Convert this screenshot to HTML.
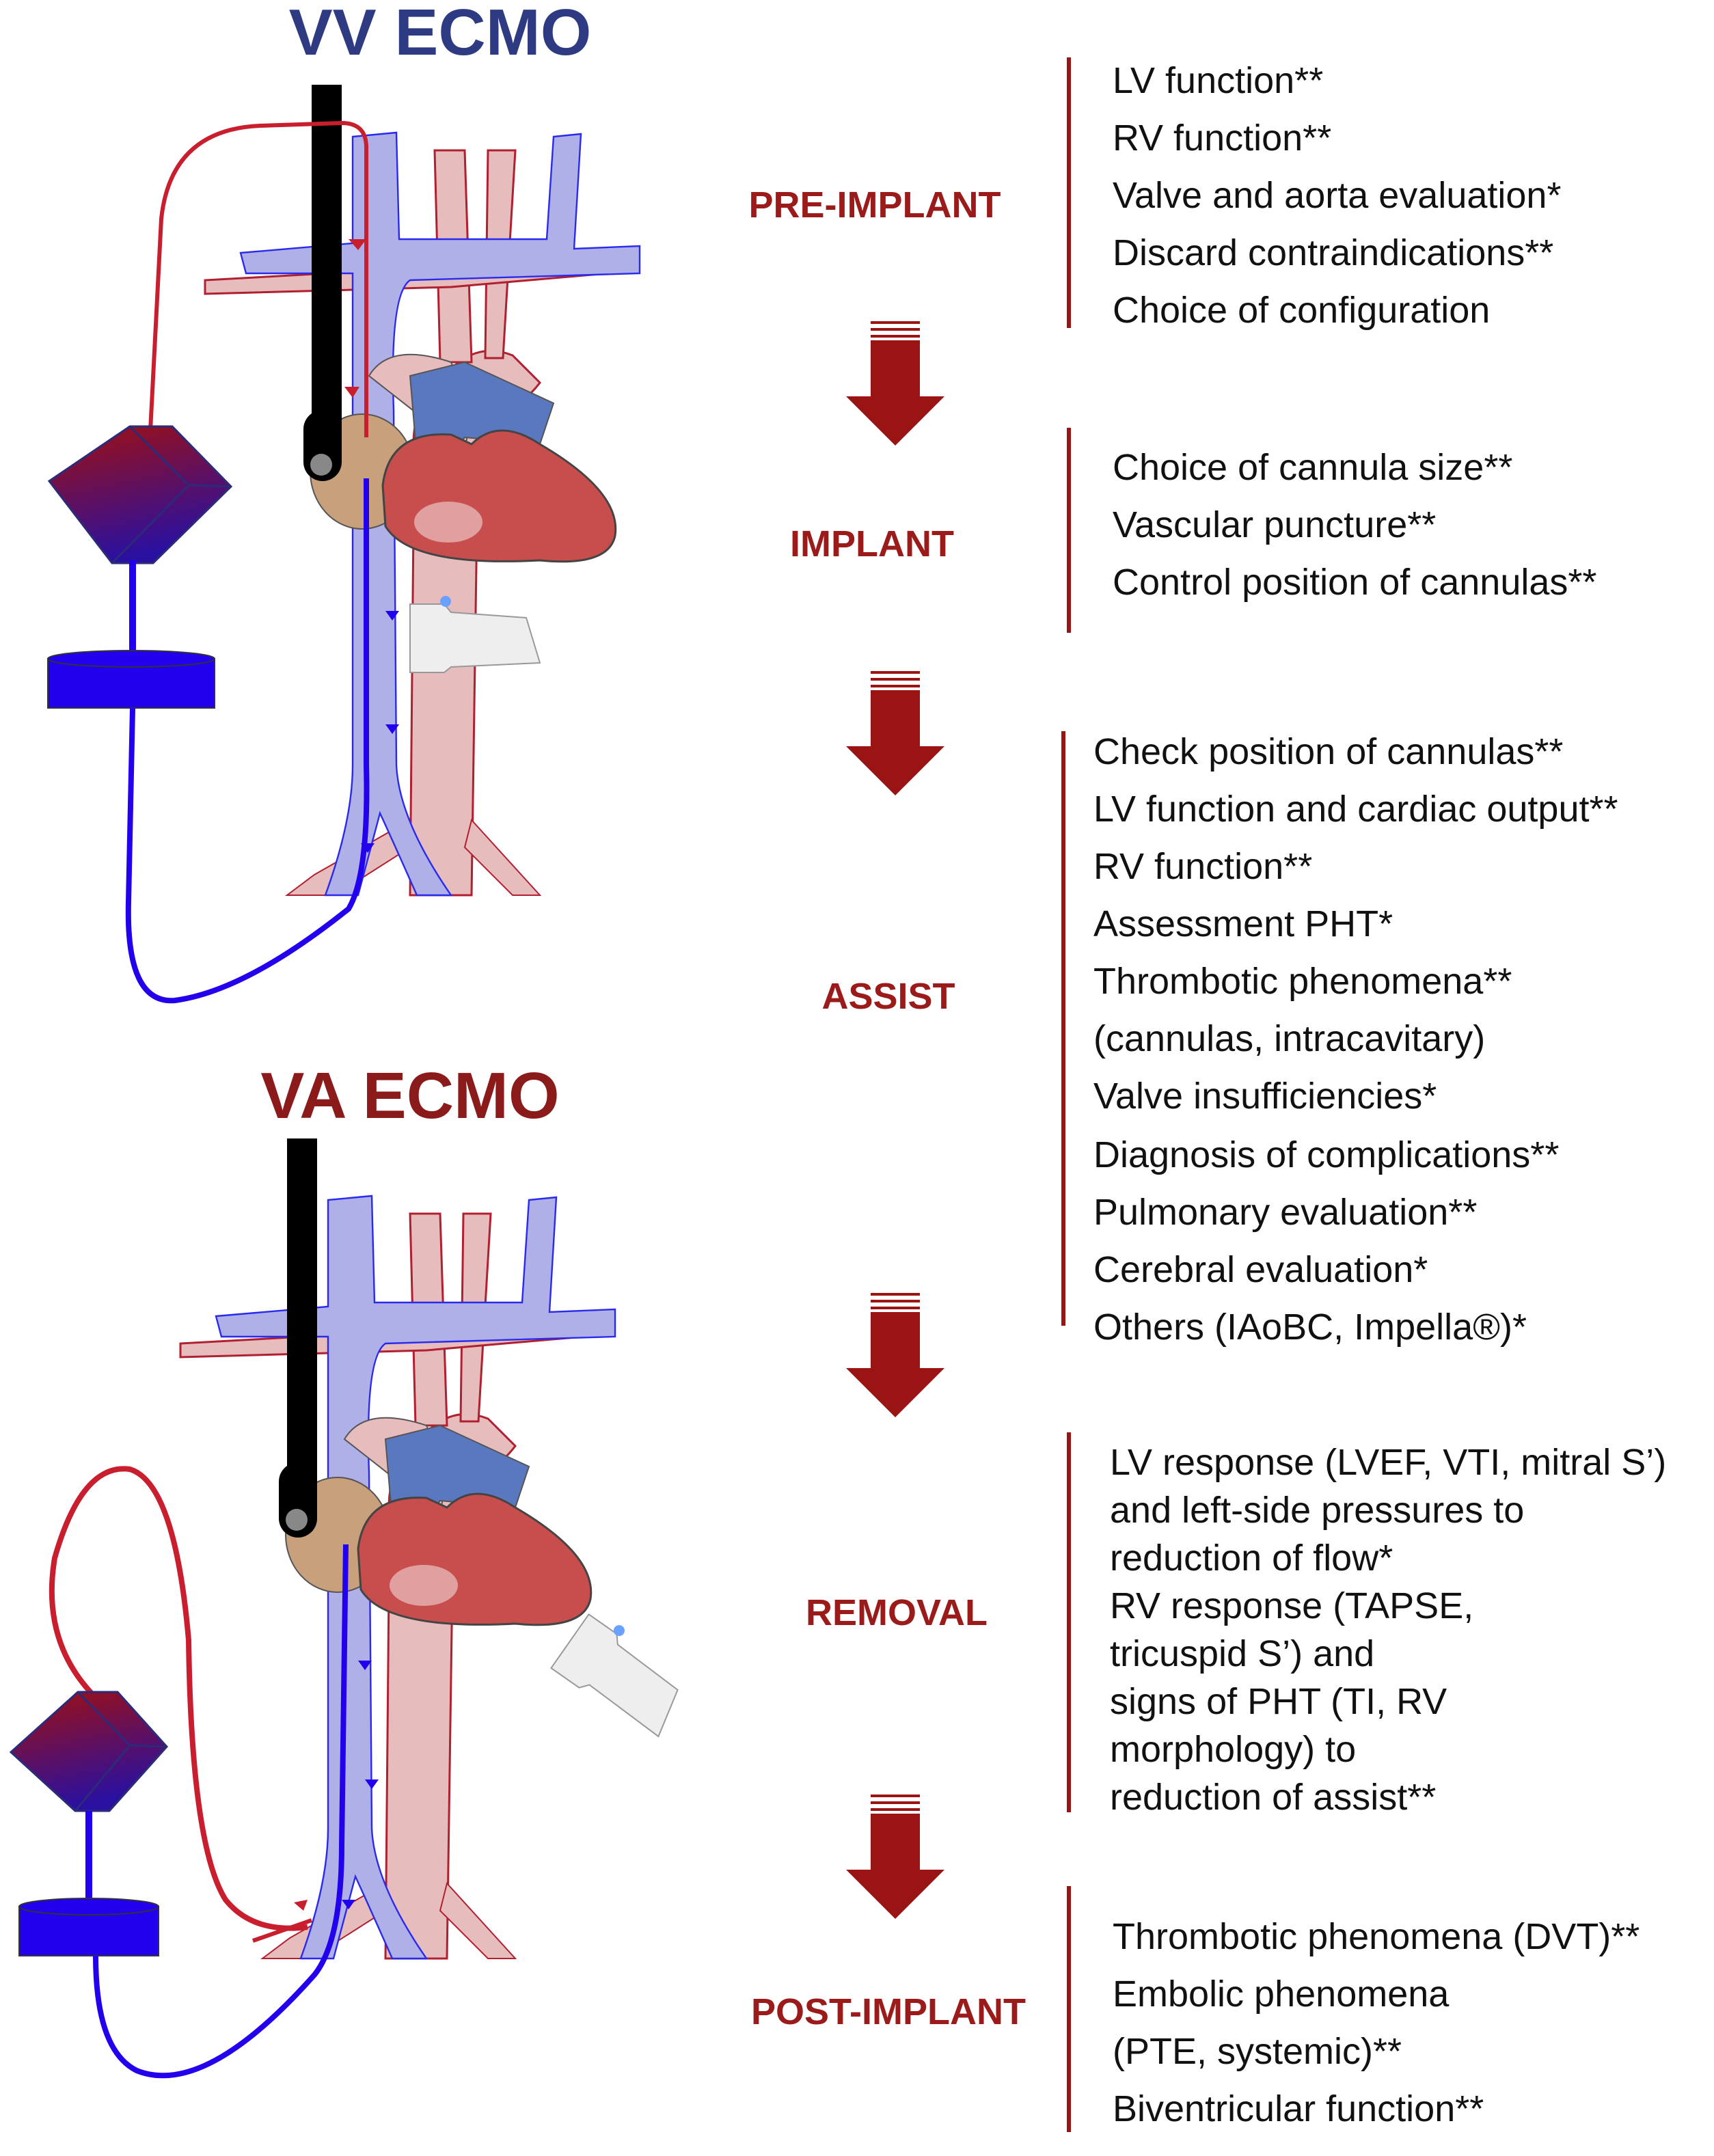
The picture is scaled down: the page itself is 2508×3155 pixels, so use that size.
<!DOCTYPE html>
<html><head><meta charset="utf-8"><style>
html,body{margin:0;padding:0;background:#fff}
svg{display:block}
text{font-family:"Liberation Sans",sans-serif}
.t{font-size:27px;fill:#111}
.s{font-size:27px;font-weight:bold;fill:#9b1b1b}
</style></head><body>
<svg width="2508" height="3155" viewBox="0 0 1254 1577.5" xmlns="http://www.w3.org/2000/svg">
<defs>
<linearGradient id="cg" x1="0" y1="0" x2="0.3" y2="1"><stop offset="0" stop-color="#a01010"/><stop offset="1" stop-color="#2a10a0"/></linearGradient>
<g id="anat">
 <path d="M300,655 L303,330 Q300,300 320,290 L330,270 Q350,250 375,260 L395,280 Q380,300 350,310 L345,655 Z" fill="#e6bcbc" stroke="#b02030" stroke-width="1.5"/>
 <path d="M322,265 L318,110 L340,110 L345,265 Z M355,262 L357,110 L377,110 L368,262 Z" fill="#e6bcbc" stroke="#b02030" stroke-width="1.5"/>
 <path d="M150,205 L150,215 L330,210 L445,200 L445,188 L330,195 Z" fill="#e6bcbc" stroke="#b02030" stroke-width="1.5"/>
 <path d="M345,600 L395,655 L375,655 L340,620 Z M300,600 L230,640 L210,655 L245,655 L300,620 Z" fill="#e6bcbc" stroke="#b02030" stroke-width="1"/>
 <path d="M258,100 L290,97 L292,175 L400,175 L405,100 L425,98 L420,182 L468,180 L468,200 L300,205 Q285,215 288,300 L290,560 Q292,600 330,655 L305,655 Q285,610 278,595 L262,655 L238,655 Q258,600 258,560 L258,200 L180,200 L176,185 L258,178 Z" fill="#b0b0e8" stroke="#2a2aee" stroke-width="1.2"/>
 <path d="M270,275 Q285,250 330,265 L345,300 L340,330 Z" fill="#e6bcbc" stroke="#555" stroke-width="1"/>
 <ellipse cx="265" cy="345" rx="38" ry="42" fill="#c9a07c" stroke="#555" stroke-width="1"/>
 <path d="M300,275 L340,265 L405,295 L395,325 L340,320 L325,340 L305,335 Z" fill="#5a78c0" stroke="#555" stroke-width="1"/>
 <path d="M280,355 Q285,315 330,318 L345,325 Q365,305 395,325 Q455,360 450,392 Q445,415 395,410 Q300,415 282,385 Z" fill="#c84e4e" stroke="#444" stroke-width="1.5"/>
 <ellipse cx="328" cy="382" rx="25" ry="15" fill="#e0a0a0"/>
</g>
</defs>

<text x="322" y="40" text-anchor="middle" style="font-size:48px;font-weight:bold;fill:#2e3a82">VV ECMO</text>
<use href="#anat"/>
<rect x="228" y="62" width="22" height="270" fill="#000"/>
<rect x="222" y="300" width="28" height="52" rx="14" fill="#000"/>
<circle cx="235" cy="340" r="8" fill="#888"/>
<path d="M268,320 L268,108 Q268,90 250,90 L190,92 Q125,95 118,160 L110,315" fill="none" stroke="#c81e2e" stroke-width="3"/>
<path d="M300,442 L325,442 L330,448 L385,452 L395,485 L330,488 L325,492 L300,492 Z" fill="#eee" stroke="#999"/>
<circle cx="326" cy="440" r="4" fill="#6aa0ff"/>
<polygon points="36,352 95,312 126,312 169,356 112,412 82,412" fill="url(#cg)" stroke="#2b2b7a" stroke-width="1.5"/>
<path d="M95,312 L138,355 L169,356 M138,355 L82,412" fill="none" stroke="#2b2b7a" stroke-width="1.5"/>
<line x1="97" y1="410" x2="97" y2="478" stroke="#2200ee" stroke-width="5"/>
<rect x="35" y="482" width="122" height="36" fill="#2200ee" stroke="#333"/>
<ellipse cx="96" cy="482" rx="61" ry="6" fill="#2200ee" stroke="#333"/>
<path d="M97,518 L94,660 Q92,735 128,732 Q180,725 255,665 Q270,640 268,560 L268,350" fill="none" stroke="#2200ee" stroke-width="4"/>
<polygon points="282,447 292,447 287,454" fill="#2200ee"/><polygon points="282,530 292,530 287,537" fill="#2200ee"/><polygon points="264,617 274,617 269,624" fill="#2200ee"/>
<polygon points="255,175 268,175 262,183" fill="#c81e2e"/><polygon points="252,283 263,283 258,291" fill="#c81e2e"/>

<text x="300" y="818" text-anchor="middle" style="font-size:48px;font-weight:bold;fill:#8b1a1a">VA ECMO</text>
<g transform="translate(-18,778)"><use href="#anat"/></g>
<rect x="210" y="833" width="22" height="270" fill="#000"/>
<rect x="204" y="1070" width="28" height="55" rx="14" fill="#000"/>
<circle cx="217" cy="1112" r="8" fill="#888"/>
<path d="M68,1240 Q30,1200 40,1140 Q60,1070 95,1075 Q128,1085 138,1200 Q140,1350 165,1390 Q185,1415 225,1410" fill="none" stroke="#c81e2e" stroke-width="4"/>
<path d="M185,1420 L228,1405" stroke="#c81e2e" stroke-width="3"/>
<polygon points="215,1392 225,1390 222,1398" fill="#c81e2e"/>
<g transform="translate(455,1225) rotate(35)"><path d="M-45,-22 L-20,-22 L-15,-16 L40,-14 L48,22 L-15,20 L-20,26 L-45,26 Z" fill="#eee" stroke="#999"/><circle cx="-20" cy="-25" r="4" fill="#6aa0ff"/></g>
<polygon points="8,1282 57,1238 86,1238 122,1278 80,1325 55,1325" fill="url(#cg)" stroke="#2b2b7a" stroke-width="1.5"/>
<path d="M57,1238 L95,1277 L122,1278 M95,1277 L55,1325" fill="none" stroke="#2b2b7a" stroke-width="1.5"/>
<line x1="65" y1="1325" x2="65" y2="1392" stroke="#2200ee" stroke-width="5"/>
<rect x="14" y="1395" width="102" height="36" fill="#2200ee" stroke="#333"/>
<ellipse cx="65" cy="1395" rx="51" ry="6" fill="#2200ee" stroke="#333"/>
<path d="M70,1431 Q70,1500 100,1515 Q150,1535 230,1445 Q250,1420 250,1350 L253,1130" fill="none" stroke="#2200ee" stroke-width="4"/>
<polygon points="262,1215 272,1215 267,1222" fill="#2200ee"/><polygon points="267,1302 277,1302 272,1309" fill="#2200ee"/><polygon points="250,1390 260,1390 255,1397" fill="#2200ee"/>

<text class="s" x="640" y="159" text-anchor="middle">PRE-IMPLANT</text>
<text class="s" x="638" y="407" text-anchor="middle">IMPLANT</text>
<text class="s" x="650" y="738" text-anchor="middle">ASSIST</text>
<text class="s" x="656" y="1189" text-anchor="middle">REMOVAL</text>
<text class="s" x="650" y="1481" text-anchor="middle">POST-IMPLANT</text>

<g fill="#9b1414">
 <g id="arr"><rect x="637" y="235" width="36" height="2"/><rect x="637" y="240" width="36" height="2"/><rect x="637" y="245" width="36" height="2"/><rect x="637" y="249" width="36" height="42"/><polygon points="619,290 691,290 655,326"/></g>
 <use href="#arr" y="256"/><use href="#arr" y="711"/><use href="#arr" y="1078"/>
</g>

<g stroke="#9b1414" stroke-width="3">
<line x1="782" y1="42" x2="782" y2="240"/><line x1="782" y1="313" x2="782" y2="463"/>
<line x1="778" y1="535" x2="778" y2="970"/><line x1="782" y1="1048" x2="782" y2="1326"/>
<line x1="782" y1="1380" x2="782" y2="1560"/>
</g>

<g class="t">
<text x="814" y="68">LV function**</text><text x="814" y="110">RV function**</text><text x="814" y="152">Valve and aorta evaluation*</text><text x="814" y="194">Discard contraindications**</text><text x="814" y="236">Choice of configuration</text>
<text x="814" y="351">Choice of cannula size**</text><text x="814" y="393">Vascular puncture**</text><text x="814" y="435">Control position of cannulas**</text>
<text x="800" y="559">Check position of cannulas**</text><text x="800" y="601">LV function and cardiac output**</text><text x="800" y="643">RV function**</text><text x="800" y="685">Assessment PHT*</text><text x="800" y="727">Thrombotic phenomena**</text><text x="800" y="769">(cannulas, intracavitary)</text><text x="800" y="811">Valve insufficiencies*</text><text x="800" y="854">Diagnosis of complications**</text><text x="800" y="896">Pulmonary evaluation**</text><text x="800" y="938">Cerebral evaluation*</text><text x="800" y="980">Others (IAoBC, Impella®)*</text>
<text x="812" y="1079">LV response (LVEF, VTI, mitral S’)</text><text x="812" y="1114">and left-side pressures to</text><text x="812" y="1149">reduction of flow*</text><text x="812" y="1184">RV response (TAPSE,</text><text x="812" y="1219">tricuspid S’) and</text><text x="812" y="1254">signs of PHT (TI, RV</text><text x="812" y="1289">morphology) to</text><text x="812" y="1324">reduction of assist**</text>
<text x="814" y="1426">Thrombotic phenomena (DVT)**</text><text x="814" y="1468">Embolic phenomena</text><text x="814" y="1510">(PTE, systemic)**</text><text x="814" y="1552">Biventricular function**</text>
</g>
</svg>
</body></html>
